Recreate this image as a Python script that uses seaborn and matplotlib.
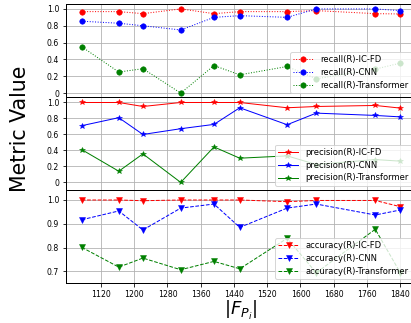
import matplotlib
matplotlib.use("Agg")
import matplotlib.pyplot as plt
import seaborn as sns
import numpy as np

# ---- data ----
sizes = [1074, 1163, 1221, 1312, 1392, 1454, 1568, 1638, 1780, 1840]
recall_icfd = [0.968, 0.968, 0.944, 1.0, 0.944, 0.968, 0.968, 0.98, 0.944, 0.94]
recall_cnn = [0.854, 0.83, 0.80, 0.75, 0.90, 0.92, 0.90, 1.0, 1.0, 0.98]
recall_tr = [0.55, 0.25, 0.29, 0.0, 0.327, 0.217, 0.316, 0.17, 0.285, 0.356]
prec_icfd = [1.0, 1.0, 0.95, 1.0, 1.0, 1.0, 0.934, 0.95, 0.963, 0.93]
prec_cnn = [0.71, 0.81, 0.60, 0.672, 0.726, 0.934, 0.722, 0.867, 0.838, 0.82]
prec_tr = [0.41, 0.14, 0.357, 0.0, 0.444, 0.303, 0.332, 0.224, 0.286, 0.266]
acc_icfd = [1.0, 1.0, 0.997, 1.0, 1.0, 1.0, 0.993, 0.998, 0.998, 0.972]
acc_cnn = [0.917, 0.954, 0.874, 0.966, 0.983, 0.885, 0.966, 0.983, 0.937, 0.958]
acc_tr = [0.801, 0.718, 0.756, 0.707, 0.742, 0.711, 0.839, 0.694, 0.877, 0.695]

models = ["IC-FD", "CNN", "Transformer"]
colors = ["red", "blue", "green"]
xticks = [1120, 1200, 1280, 1360, 1440, 1520, 1600, 1680, 1760, 1840]
yticks_01 = [0, 0.2, 0.4, 0.6, 0.8, 1.0]
yticklabels_01 = ["0", "0.2", "0.4", "0.6", "0.8", "1.0"]
yticks_acc = [0.7, 0.8, 0.9, 1.0]

plt.rcParams['font.family'] = ['DejaVu Sans']
DPI = 72
fig = plt.figure(figsize=(411 / DPI, 323 / DPI), dpi=DPI)
left, right = 66 / 411, 416 / 411
tops = [4.3, 97.3, 190.0]
bots = [97.3, 190.0, 283.3]
axes = []
for i in range(3):
    b = 1 - bots[i] / 323
    h = (bots[i] - tops[i]) / 323
    ax = fig.add_axes([left, b, right - left, h], sharex=axes[0] if axes else None)
    axes.append(ax)

panels = [
    ("recall(R)", [recall_icfd, recall_cnn, recall_tr], "o", ":", (-0.05, 1.055)),
    ("precision(R)", [prec_icfd, prec_cnn, prec_tr], "*", "-", (-0.095, 1.065)),
    ("accuracy(R)", [acc_icfd, acc_cnn, acc_tr], "v", "--", (0.65, 1.042)),
]

for ax, (metric, series, mk, ls, ylim) in zip(axes, panels):
    for vals, name, c in zip(series, models, colors):
        sns.lineplot(x=sizes, y=vals, ax=ax, color=c, marker=mk, linestyle=ls,
                     linewidth=1.0, markersize=5.5 if mk != "*" else 6,
                     markeredgecolor=c, markeredgewidth=0.5,
                     label=f"{metric}-{name}")
    ax.set_ylim(*ylim)
    ax.grid(True, color="#b0b0b0", linewidth=0.8)
    ax.set_axisbelow(True)
    ax.legend(loc="lower right", fontsize=8.4, handlelength=2.4, framealpha=0.8,
              borderaxespad=0.5, labelspacing=0.45)
    ax.tick_params(labelsize=7.8, length=3.5)
    for s in ax.spines.values():
        s.set_linewidth(1.0)

axes[0].set_yticks(yticks_01)
axes[0].set_yticklabels(yticklabels_01)
axes[1].set_yticks(yticks_01)
axes[1].set_yticklabels(yticklabels_01)
axes[2].set_yticks(yticks_acc)
axes[2].set_yticklabels([f"{v:.1f}" for v in yticks_acc])

axes[2].set_xticks(xticks)
axes[2].set_xlim(1036, 1878)
for ax in axes[:2]:
    ax.tick_params(labelbottom=False)

axes[2].set_xlabel(r"$|F_{P_i}|$", fontsize=18, labelpad=0)
fig.text(20 / 411, 1 - 129 / 323, "Metric Value", rotation=90, fontsize=20.5,
         ha="center", va="center")

fig.savefig("out.png", dpi=DPI)
